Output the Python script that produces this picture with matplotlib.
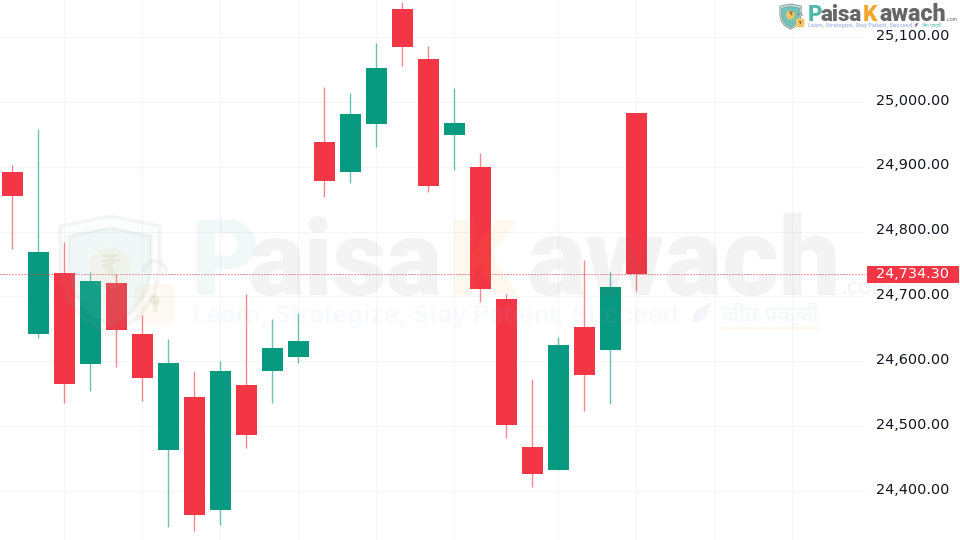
import numpy as np
import matplotlib
matplotlib.use('Agg')
import matplotlib.pyplot as plt
from matplotlib.patches import Circle, FancyBboxPatch, Polygon, Rectangle, Wedge
from matplotlib.transforms import ScaledTranslation

# candle data
opens = [24891.4, 24642.5, 24736.1, 24596.3, 24720.7, 24642.1, 24463.7, 24544.5, 24371.2, 24563.5,
         24585.5, 24606.6, 24938.1, 24891.4, 24965.9, 25142.7, 25065.6, 24949.4, 24900.0, 24696.0,
         24467.4, 24432.4, 24653.3, 24617.4, 24982.8]
closes = [24854.9, 24769.0, 24565.5, 24723.3, 24648.7, 24574.2, 24597.4, 24363.0, 24585.5, 24486.8,
          24620.5, 24631.8, 24877.5, 24980.8, 25051.7, 25084.1, 24869.8, 24967.9, 24711.9, 24501.3,
          24426.7, 24625.1, 24579.3, 24715.0, 24734.3]
highs = [24902.6, 24958.2, 24784.4, 24737.7, 24734.6, 24671.4, 24634.4, 24585.5, 24600.5, 24703.8,
         24665.2, 24674.5, 25022.9, 25013.2, 25090.3, 25154.0, 25086.1, 25021.8, 24920.7, 24703.8,
         24572.7, 24637.5, 24756.2, 24738.1, 24982.8]
lows = [24773.1, 24635.9, 24536.2, 24554.7, 24591.2, 24539.2, 24344.5, 24338.4, 24348.1, 24466.8,
        24536.2, 24597.8, 24853.8, 24874.9, 24930.9, 25055.8, 24861.0, 24895.4, 24691.4, 24481.7,
        24406.2, 24432.4, 24523.4, 24534.6, 24708.8]
price_ticks = [24400, 24500, 24600, 24700, 24800, 24900, 25000, 25100]
time_grid = [2, 5, 8, 11, 14, 17, 21, 24, 27, 30]
last_price = 24734.30

RED = '#F23645'
GREEN = '#089981'
TEXT = '#131722'

opens = np.array(opens)
closes = np.array(closes)
x = np.arange(len(opens))
colors = [GREEN if c > o else RED for o, c in zip(opens, closes)]

fig = plt.figure(figsize=(9.6, 5.4), dpi=100)
ax = fig.add_axes([0, 0, 865 / 960, 1])

# wicks then bodies
ax.vlines(x, lows, highs, colors=colors, linewidth=1.0, alpha=0.6, zorder=2)
ax.bar(x, np.abs(closes - opens), bottom=np.minimum(opens, closes), width=0.81,
       color=colors, linewidth=0, zorder=3)
ax.axhline(last_price, color=RED, linestyle=(0, (1, 2)), linewidth=0.72, zorder=4)

# pixel scale: 26 px a candle, 64.86 px per 100 points
ax.set_xlim(-12.3 / 26, (865 - 12.3) / 26)
ax.set_ylim(24400 - 49 / 0.6486, 25100 + 37 / 0.6486)
ax.set_xticks(time_grid)
ax.set_yticks(price_ticks)
ax.set_yticklabels([f'{p:,.2f}' for p in price_ticks], fontsize=10.4, color=TEXT)
ax.yaxis.tick_right()
ax.tick_params(axis='both', length=0, pad=8, labelbottom=False)
ax.grid(True, color='#f5f5f6', linewidth=0.8, zorder=0)
ax.set_axisbelow(True)
for s in ax.spines.values():
    s.set_visible(False)
for lab in ax.get_yticklabels():
    lab.set_transform(lab.get_transform() + ScaledTranslation(0, 2 / 72, fig.dpi_scale_trans))

# last price tag
trans = ax.get_yaxis_transform()
ax.add_patch(Rectangle((1.002, last_price - 13), 92 / 865, 26, transform=trans, color=RED,
                       linewidth=0, clip_on=False, zorder=6))
ax.text(1 + 11 / 865, last_price, f'{last_price:,.2f}', transform=trans, color='white',
        fontsize=10.4, va='center', ha='left', zorder=7, clip_on=False)

# overlay in pixels for the logos
over = fig.add_axes([0, 0, 1, 1], facecolor='none', zorder=5)
over.set_xlim(0, 960)
over.set_ylim(540, 0)
over.axis('off')


def draw_logo(x0, y0, k, a):
    # coordinates below are those of the big watermark, shifted and scaled for the small one
    def X(v):
        return x0 + (v - 192) * k

    def Y(v):
        return y0 + (v - 296) * k

    def word(px, s, c, size=105, weight=900, y=295, fam='Roboto', alpha=a):
        over.text(X(px), Y(y), s, color=c, alpha=alpha, fontsize=size * k * 0.72, fontweight=weight,
                  family=fam, va='baseline', ha='left')

    outer = [(110, 216), (60, 226), (60, 268), (66, 296), (82, 318), (110, 335), (138, 318),
             (154, 296), (160, 268), (160, 226)]
    inner = [(110, 228), (69, 236), (69, 268), (74, 292), (88, 312), (110, 326), (132, 312),
             (146, 292), (151, 268), (151, 236)]
    over.add_patch(Polygon([(X(p), Y(q)) for p, q in outer], closed=True, facecolor='#b9dfda',
                           edgecolor='none', alpha=a * 0.5 if a < 1 else 1))
    over.add_patch(Polygon([(X(p), Y(q)) for p, q in outer], closed=True, facecolor='none',
                           edgecolor='#7f8c8a', linewidth=2.5 * k, alpha=a))
    over.add_patch(Polygon([(X(p), Y(q)) for p, q in inner], closed=True, facecolor='#6fc3b8',
                           edgecolor='#7f8c8a', linewidth=2 * k, alpha=a))
    over.add_patch(Circle((X(110), Y(268)), 21 * k, facecolor='#f5c469', edgecolor='none', alpha=a))
    over.text(X(110), Y(268), '\u20b9', color='#8a6d2f', alpha=a, fontsize=30 * k * 0.72,
              ha='center', va='center', fontweight='bold')
    over.add_patch(Wedge((X(155), Y(272)), 13 * k, 180, 360, width=4 * k, facecolor='#7f8c8a',
                         edgecolor='none', alpha=a))
    over.add_patch(FancyBboxPatch((X(135), Y(284)), 40 * k, 41 * k, boxstyle=f'round,pad=0,rounding_size={7 * k}',
                                  facecolor='#f5c469', edgecolor='none', alpha=a))
    over.add_patch(Circle((X(155), Y(300)), 5 * k, facecolor='#8a6d2f', edgecolor='none', alpha=a))
    over.add_patch(Rectangle((X(152.5), Y(300)), 5 * k, 12 * k, facecolor='#8a6d2f', edgecolor='none', alpha=a))

    word(190, 'P', '#4fb9aa')
    word(249, 'aisa', '#666666')
    word(448, 'K', '#f5a62b')
    word(527, 'awach', '#666666', size=109)
    word(842, '.com', '#666666', size=24, weight='normal', y=294, fam='Lato')
    word(192, 'Learn, Strategize, Stay Patient, Succeed', '#9fb4e6', size=25, weight='semibold', y=323, fam='Inter')
    # rocket
    rocket = [(712, 302), (706, 316), (700, 322), (693, 322), (693, 315), (698, 309)]
    over.add_patch(Polygon([(X(p), Y(q)) for p, q in rocket], closed=True, facecolor='#8a6fd0',
                           edgecolor='none', alpha=a))
    word(722, 'जीत पक्की', '#4fb9aa', size=23, weight='bold', y=322, fam=['Noto Sans', 'DejaVu Sans'])
    over.add_patch(Rectangle((X(722), Y(327)), 98 * k, 2.5 * k, facecolor='#f5a62b', edgecolor='none', alpha=a))


draw_logo(192, 296, 1.0, 0.08)
draw_logo(808, 21, 0.213, 1.0)

fig.savefig('out.png', dpi=100)
